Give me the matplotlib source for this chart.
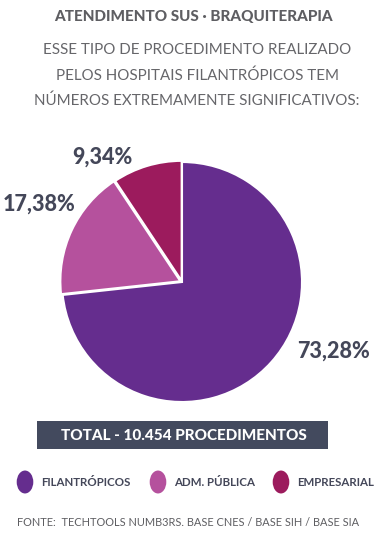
import matplotlib.pyplot as plt
from matplotlib.patches import Rectangle, Circle

categories = ['FILANTRÓPICOS', 'ADM. PÚBLICA', 'EMPRESARIAL']
shares = [73.28, 17.38, 9.34]
colors = ['#652d8e', '#b5519d', '#9c1b5d']
total_label = 'TOTAL - 10.454 PROCEDIMENTOS'

title = 'ATENDIMENTO SUS · BRAQUITERAPIA'
subtitle = ['ESSE TIPO DE PROCEDIMENTO REALIZADO',
            'PELOS HOSPITAIS FILANTRÓPICOS TEM',
            'NÚMEROS EXTREMAMENTE SIGNIFICATIVOS:']
source = 'FONTE:  TECHTOOLS NUMB3RS. BASE CNES / BASE SIH / BASE SIA'

plt.rcParams['font.family'] = ['Lato', 'DejaVu Sans']

W, H = 392, 542
fig = plt.figure(figsize=(W / 100, H / 100), dpi=100)
fig.patch.set_facecolor('white')

dark = '#444759'
gray = '#5e5e62'


def px(x, y):
    # pixel coords (from top-left) to figure fraction
    return x / W, 1 - y / H


fig.text(*px(193, 17), title, ha='center', va='center', fontsize=11,
         fontweight='black', color=gray)
for i, line in enumerate(subtitle):
    fig.text(*px(197, 50 + i * 25.5), line, ha='center', va='center',
             fontsize=10.9, color='#66666a')

# pie
cx, cy, half = 182, 282, 125
ax = fig.add_axes([(cx - half) / W, (H - cy - half) / H, 2 * half / W, 2 * half / H])
lim = half / 120
ax.pie(shares, colors=colors, startangle=90, counterclock=False,
       explode=[0, 0.015, 0.01],
       wedgeprops=dict(edgecolor='white', linewidth=1.5))
ax.set_xlim(-lim, lim)
ax.set_ylim(-lim, lim)
ax.set_aspect('equal')
ax.axis('off')

label_pos = [(1.26, -0.58), (-1.19, 0.65), (-0.66, 1.04)]
for v, (lx, ly) in zip(shares, label_pos):
    ax.text(lx, ly, f'{v:.2f}'.replace('.', ',') + '%', ha='center', va='center',
            fontsize=15.5, fontweight='black', color=dark, clip_on=False)

# total banner
fig.patches.append(Rectangle(px(37, 449), 291 / W, 28 / H, transform=fig.transFigure,
                             facecolor='#434a5e', edgecolor='none'))
fig.text(*px(184, 435.5), total_label, ha='center', va='center', fontsize=11,
         fontweight='black', color='white')

# legend
leg_x = [25, 158, 281]
for name, c, x in zip(categories, colors, leg_x):
    fig.patches.append(Circle(px(x, 482), 8.3 / W, transform=fig.transFigure,
                              facecolor=c, edgecolor='none'))
    fig.text(*px(x + 16, 482.5), name, ha='left', va='center', fontsize=8.3,
             fontweight='bold', color=dark)

fig.text(*px(17, 523), source, ha='left', va='center', fontsize=7.9,
         color=gray)

fig.savefig('out.png', dpi=100, facecolor='white')
